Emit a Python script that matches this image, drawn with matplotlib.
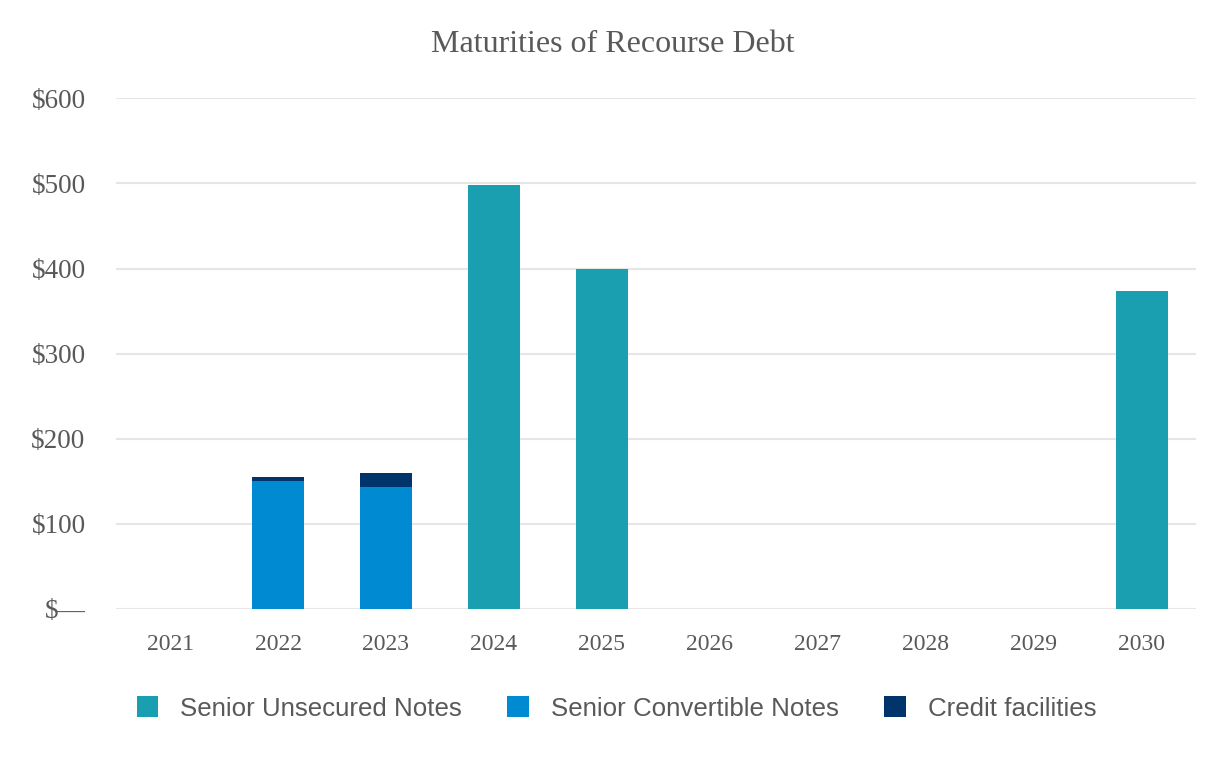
import numpy as np
import matplotlib.pyplot as plt
from matplotlib.ticker import FuncFormatter

years = ['2021', '2022', '2023', '2024', '2025', '2026', '2027', '2028', '2029', '2030']
senior_unsecured = [0, 0, 0, 498, 400, 0, 0, 0, 0, 373]
senior_convertible = [0, 150, 143, 0, 0, 0, 0, 0, 0, 0]
credit_facilities = [0, 5, 17, 0, 0, 0, 0, 0, 0, 0]

c_unsec = '#1a9fb0'
c_conv = '#008ad2'
c_credit = '#00346a'
txt = '#595959'

fig = plt.figure(figsize=(12.26, 7.6), dpi=100)
ax = fig.add_axes([0.0947, 0.1987, 0.8805, 0.672])

x = np.arange(len(years))
w = 0.48
unsec = np.array(senior_unsecured)
conv = np.array(senior_convertible)
cred = np.array(credit_facilities)
ax.bar(x, unsec, w, color=c_unsec, label='Senior Unsecured Notes', zorder=3)
ax.bar(x, conv, w, bottom=unsec, color=c_conv, label='Senior Convertible Notes', zorder=3)
ax.bar(x, cred, w, bottom=unsec + conv, color=c_credit, label='Credit facilities', zorder=3)

ax.set_xlim(-0.5, 9.5)
ax.set_ylim(0, 600)
ax.set_yticks(range(0, 601, 100))
ax.yaxis.set_major_formatter(FuncFormatter(lambda v, _: '$\u2014' if v == 0 else f'${v:.0f}'))
ax.set_xticks(x)
ax.set_xticklabels(years)
ax.grid(axis='y', color='#e6e6e6', linewidth=1.5, zorder=0)
for s in ax.spines.values():
    s.set_visible(False)
ax.tick_params(axis='x', length=0, labelsize=17, colors=txt, pad=18)
ax.tick_params(axis='y', length=0, labelsize=19.5, colors=txt, pad=22)
for lab in ax.get_xticklabels() + ax.get_yticklabels():
    lab.set_family('Liberation Serif')

fig.suptitle('Maturities of Recourse Debt', x=0.5, y=0.941, va='center', fontsize=23,
             color=txt, family='Liberation Serif')

leg = fig.legend(loc='center', bbox_to_anchor=(0.503, 0.068), ncol=3, frameon=False,
                 prop={'family': 'Liberation Sans', 'size': 18.6}, labelcolor=txt,
                 handlelength=0.85, handleheight=0.9, handletextpad=0.85, columnspacing=1.75)

fig.savefig('out.png', dpi=100)
